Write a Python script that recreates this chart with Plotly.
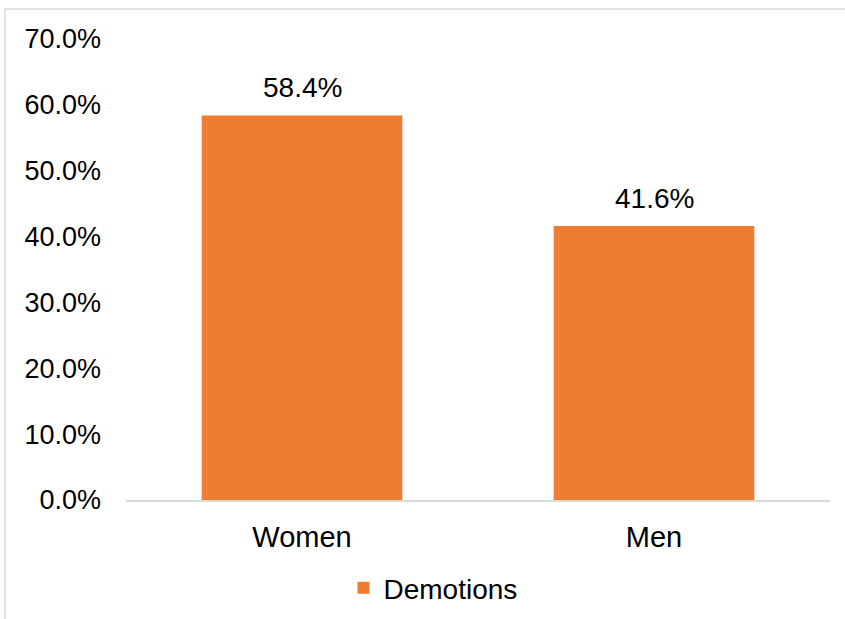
import plotly.graph_objects as go

categories = ["Women", "Men"]
values = [58.4, 41.6]
series_name = "Demotions"
tick_vals = [0, 10, 20, 30, 40, 50, 60, 70]
tick_text = [f"{v:.1f}%" for v in tick_vals]

W, H = 845, 619
L, R, T, B = 126, 15, 39, 119
pw, ph = W - L - R, H - T - B

def px_x(x):
    return (x - L) / pw

def px_y(y):
    return (H - B - y) / ph

fig = go.Figure(go.Bar(
    x=categories, y=values, name=series_name,
    marker=dict(color="#ED7D31", line=dict(width=0)),
    showlegend=True,
))

for c, v in zip(categories, values):
    fig.add_annotation(x=c, y=v, text=f"{v:.1f}%", showarrow=False,
                       yanchor="bottom", yshift=10,
                       font=dict(size=28, color="#000000"))

fig.update_layout(
    width=W, height=H,
    margin=dict(l=L, r=R, t=T, b=B, autoexpand=False),
    paper_bgcolor="white", plot_bgcolor="white",
    font=dict(family="Liberation Sans, Arial", size=27, color="#000000"),
    bargap=0.43,
    showlegend=True,
    legend=dict(orientation="h", x=px_x(433), xanchor="center",
                y=px_y(588), yanchor="middle", font=dict(size=28),
                itemwidth=30),
    xaxis=dict(showline=True, linecolor="#d9d9d9", linewidth=1.5,
               ticks="", showgrid=False, tickfont=dict(size=29),
               ticklabelstandoff=10),
    yaxis=dict(range=[0, 70], tickvals=tick_vals, ticktext=tick_text,
               showgrid=False, zeroline=False, showline=False,
               ticks="", ticklabelstandoff=24, tickfont=dict(size=27)),
    shapes=[
        dict(type="line", xref="paper", yref="paper",
             x0=px_x(5), x1=px_x(5), y0=px_y(619), y1=px_y(9),
             line=dict(color="#d9d9d9", width=1.5)),
        dict(type="line", xref="paper", yref="paper",
             x0=px_x(5), x1=px_x(845), y0=px_y(9), y1=px_y(9),
             line=dict(color="#d9d9d9", width=1.5)),
    ],
)

fig.write_html("out.html", config={"displayModeBar": False},
               post_script="document.body.style.margin='0';document.body.style.padding='0';")
